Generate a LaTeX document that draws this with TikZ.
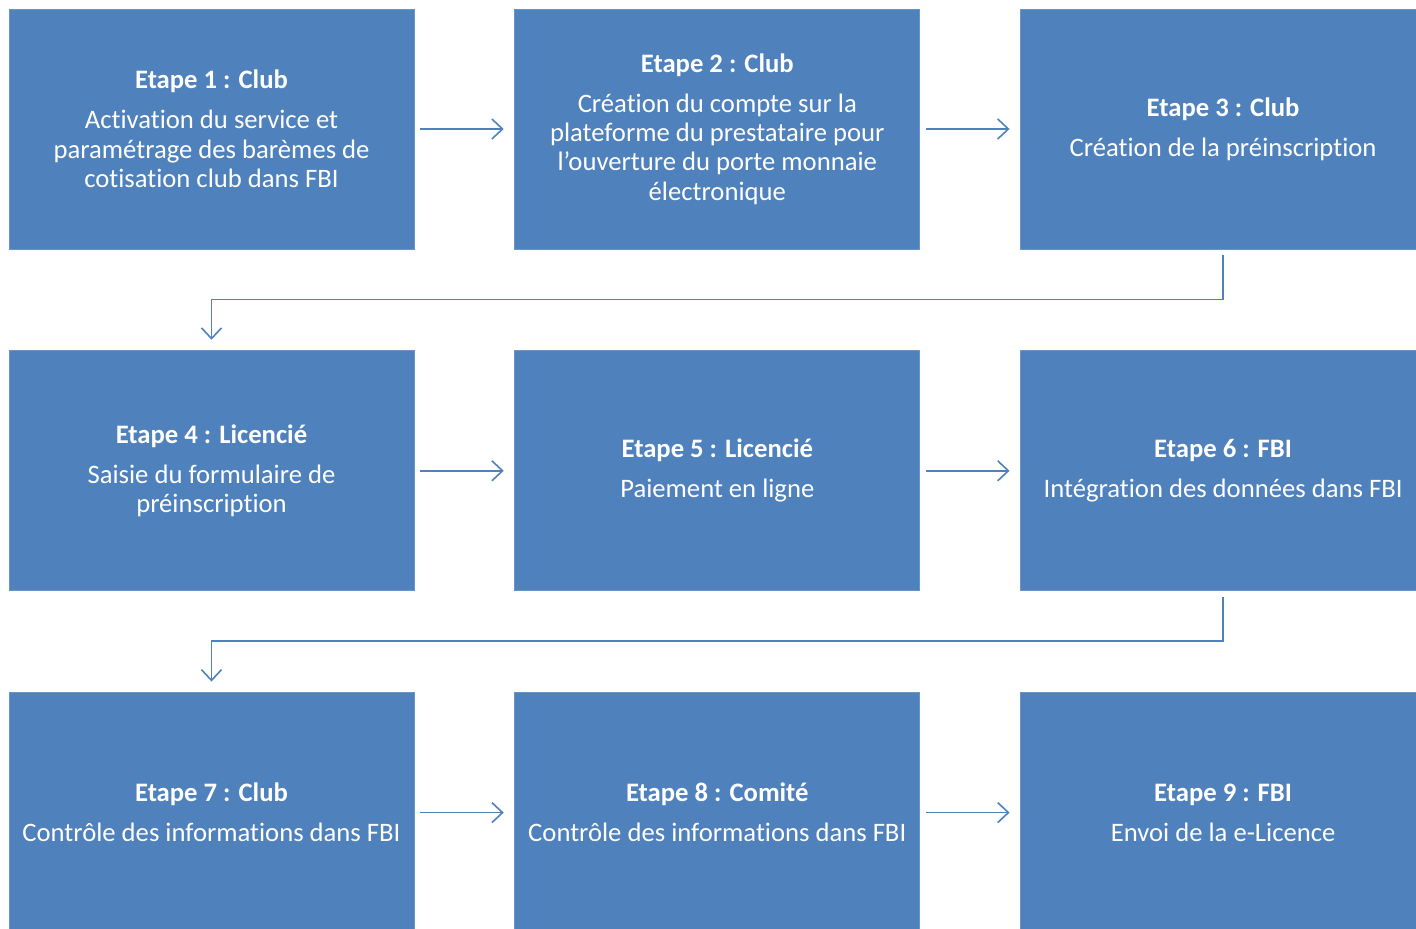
\documentclass[tikz,border=0pt]{standalone}
\usepackage{fontspec}
\setmainfont{Carlito}[Ligatures={TeX,NoCommon}]
\usetikzlibrary{positioning,arrows.meta}
\definecolor{etapeblue}{HTML}{4F81BD}
\tikzset{
  etape/.style={rectangle, fill=etapeblue, draw=etapeblue!85!white, line width=0.6pt,
    minimum width=303.75pt, minimum height=180pt, inner sep=0pt,
    text=white, align=center, font=\fontsize{20}{22}\selectfont},
  flow/.style={draw=etapeblue, line width=1.2pt,
    -{Straight Barb[length=8pt, width=15pt, line width=1.2pt]},
    shorten <=4.5pt, shorten >=8pt},
}
\begin{document}
\begin{tikzpicture}[node distance=75pt and 75pt]
    \useasboundingbox (-158.625pt,96.75pt) rectangle ++(1062pt,-696pt);

    % Nodes
    \node[etape] (E1) at (0,0) {\textbf{Etape 1 : Club}\\[8pt]Activation du service et\\paramétrage des barèmes de\\cotisation club dans FBI};
    \node[etape] (E2) [right=of E1] {\textbf{Etape 2 : Club}\\[8pt]Création du compte sur la\\plateforme du prestataire pour\\l\char"27 ouverture du porte monnaie\\électronique};
    \node[etape] (E3) [right=of E2] {\textbf{Etape 3 : Club}\\[8pt]Création de la préinscription};
    \node[etape] (E4) [below=75.75pt of E1] {\textbf{Etape 4 : Licencié}\\[8pt]Saisie du formulaire de\\préinscription};
    \node[etape] (E5) [right=of E4] {\textbf{Etape 5 : Licencié}\\[8pt]Paiement en ligne};
    \node[etape] (E6) [right=of E5] {\textbf{Etape 6 : FBI}\\[8pt]Intégration des données dans FBI};
    \node[etape] (E7) [below=75.75pt of E4] {\textbf{Etape 7 : Club}\\[8pt]Contrôle des informations dans FBI};
    \node[etape] (E8) [right=of E7] {\textbf{Etape 8 : Comité}\\[8pt]Contrôle des informations dans FBI};
    \node[etape] (E9) [right=of E8] {\textbf{Etape 9 : FBI}\\[8pt]Envoi de la e-Licence};

    % Edges
    \draw[flow] (E1) -- (E2);
    \draw[flow] (E2) -- (E3);
    \draw[flow] (E3.south) -- ++(0,-37.5pt) -| (E4.north);
    \draw[flow] (E4) -- (E5);
    \draw[flow] (E5) -- (E6);
    \draw[flow] (E6.south) -- ++(0,-37.5pt) -| (E7.north);
    \draw[flow] (E7) -- (E8);
    \draw[flow] (E8) -- (E9);
\end{tikzpicture}
\end{document}
